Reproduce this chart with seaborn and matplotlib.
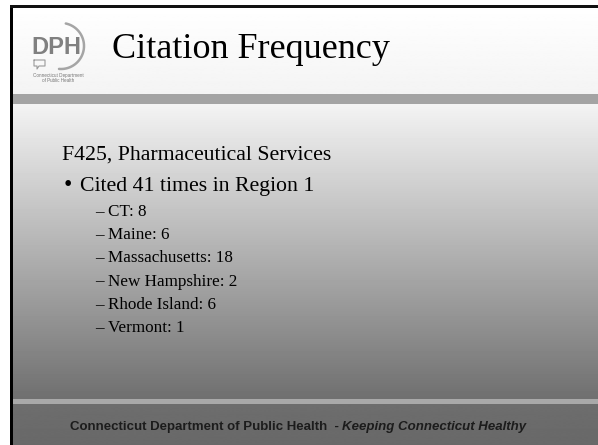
import matplotlib
matplotlib.use("Agg")
import matplotlib.pyplot as plt
import seaborn as sns
import numpy as np

# slide content
title = "Citation Frequency"
heading = "F425, Pharmaceutical Services"
total_cited = 41
region = "Region 1"
states = ["CT", "Maine", "Massachusetts", "New Hampshire", "Rhode Island", "Vermont"]
citations = [8, 6, 18, 2, 6, 1]
footer_main = "Connecticut Department of Public Health  - "
footer_tag = "Keeping Connecticut Healthy"
logo_lines = ["Connecticut Department", "of Public Health"]

sns.set_theme(style="white")
plt.rcParams["font.family"] = ["Liberation Serif", "DejaVu Serif"]

W, H = 598, 445
fig = plt.figure(figsize=(W / 100, H / 100), dpi=100)
ax = fig.add_axes([0, 0, 1, 1])
ax.set_xlim(0, W)
ax.set_ylim(H, 0)
ax.axis("off")


def vgrad(y0, y1, c0, c1, x0=13, x1=W):
    g = np.linspace(c0, c1, 64).reshape(-1, 1)
    ax.imshow(g, cmap="gray", vmin=0, vmax=1, aspect="auto",
              extent=(x0, x1, y1, y0), interpolation="bilinear", zorder=0)


# background panels
vgrad(7, 94, 1.0, 0.955)
ax.axhspan(94, 104, xmin=13 / W, xmax=1, color="#a3a3a3", lw=0, zorder=1)
vgrad(104, 399, 0.95, 0.44)
ax.axhspan(399, 404, xmin=13 / W, xmax=1, color="#a9a9a9", lw=0, zorder=1)
vgrad(404, H, 0.43, 0.41)
ax.axvspan(10, 13, ymin=0, ymax=1 - 5 / H, color="black", lw=0, zorder=2)
ax.axhspan(5, 7.5, xmin=10 / W, xmax=1, color="#111111", lw=0, zorder=2)

# logo
t = np.deg2rad(np.linspace(-95, 78, 100))
ax.plot(61 + 23 * np.cos(t), 46 - 23 * np.sin(t), color="#a5a5a5", lw=1.8, zorder=3)
ax.text(56, 47, "DPH", family="Liberation Sans", weight="bold", fontsize=17,
        color="#808080", ha="center", va="center", zorder=4)
bub_x = [34, 45, 45, 39, 37, 37, 34, 34]
bub_y = [60, 60, 66, 66, 69, 66, 66, 60]
ax.plot(bub_x, bub_y, color="#9a9a9a", lw=0.8, zorder=3)
for i, s in enumerate(logo_lines):
    ax.text(58, 75 + i * 6, s, family="Liberation Sans", fontsize=3.3,
            color="#777777", ha="center", va="center", zorder=4)

# title
ax.text(112, 58, title, fontsize=26, color="black", va="baseline", zorder=4)

# body text
ax.text(62, 160, heading, fontsize=15.7, color="black", va="baseline", zorder=4)
ax.text(64, 191, "\u2022", fontsize=17, color="black", va="baseline", zorder=4)
ax.text(80, 191, f"Cited {total_cited} times in {region}", fontsize=15.7,
        color="black", va="baseline", zorder=4)
for i, (s, n) in enumerate(zip(states, citations)):
    y = 216 + i * 23.2
    ax.text(95, y, "\u2013", fontsize=12.3, color="black", va="baseline", zorder=4)
    ax.text(108, y, f"{s}: {n}", fontsize=12.3, color="black", va="baseline", zorder=4)

# footer
fig.canvas.draw()
r = fig.canvas.get_renderer()
f1 = ax.text(0, 427, footer_main, family="Liberation Sans", weight="bold",
             fontsize=9.5, color="#1c1c1c", va="center", zorder=4)
f2 = ax.text(0, 427, footer_tag, family="Liberation Sans", weight="bold",
             style="italic", fontsize=9.5, color="#1c1c1c", va="center", zorder=4)
w1 = f1.get_window_extent(r).width
w2 = f2.get_window_extent(r).width
x0 = 298 - (w1 + w2) / 2
f1.set_x(x0)
f2.set_x(x0 + w1)

fig.savefig("out.png", dpi=100)
